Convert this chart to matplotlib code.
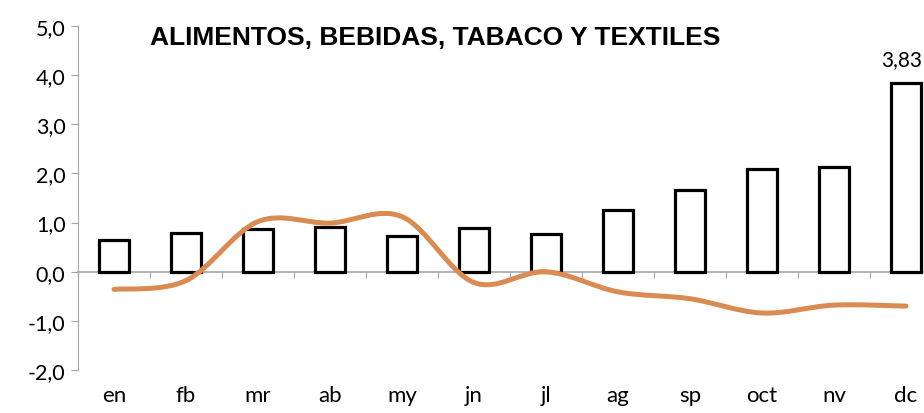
import matplotlib as mpl
mpl.use('Agg')
import matplotlib.pyplot as plt
import numpy as np
from matplotlib.path import Path
from matplotlib.patches import PathPatch
from matplotlib.ticker import FuncFormatter

MONTHS = ['en', 'fb', 'mr', 'ab', 'my', 'jn', 'jl', 'ag', 'sp', 'oct', 'nv', 'dc']
BARS = [0.65, 0.79, 0.86, 0.90, 0.72, 0.89, 0.77, 1.25, 1.67, 2.10, 2.13, 3.83]
LINE = [-0.36, -0.18, 1.02, 0.99, 1.12, -0.22, 0.00, -0.41, -0.55, -0.84, -0.68, -0.70]
TITLE = 'ALIMENTOS, BEBIDAS, TABACO Y TEXTILES'

GRAY = '#A6A6A6'
ORANGE = '#D98B52'

plt.rcParams['font.family'] = ['Lato', 'DejaVu Sans']


def smooth_path(xs, ys):
    # excel-like smoothed line: catmull-rom segments as cubic beziers
    pts = np.column_stack([xs, ys]).astype(float)
    n = len(pts)
    verts = [pts[0]]
    codes = [Path.MOVETO]
    for i in range(n - 1):
        p0 = pts[max(i - 1, 0)]
        p1 = pts[i]
        p2 = pts[i + 1]
        p3 = pts[min(i + 2, n - 1)]
        c1 = p1 + (p2 - p0) / 6
        c2 = p2 - (p3 - p1) / 6
        verts += [c1, c2, p2]
        codes += [Path.CURVE4] * 3
    return Path(verts, codes)


def main():
    fig = plt.figure(figsize=(9.24, 4.14), dpi=100)
    ax = fig.add_axes([78/924, 43/414, 864/924, 344/414])
    x = np.arange(len(MONTHS))

    ax.bar(x, BARS, width=0.42, facecolor='white', edgecolor='black',
           linewidth=2.3, zorder=3)
    ax.add_patch(PathPatch(smooth_path(x, LINE), facecolor='none', edgecolor=ORANGE,
                           linewidth=3.6, capstyle='round', zorder=4))

    ax.set_xlim(-0.5, len(MONTHS) - 0.5)
    ax.set_ylim(-2, 5)
    ax.set_yticks(np.arange(-2, 6))
    ax.yaxis.set_major_formatter(FuncFormatter(lambda v, p: f'{v:.1f}'.replace('.', ',')))
    ax.tick_params(axis='y', length=5, width=0.8, color=GRAY, labelsize=15.5, pad=4)

    for s in ('top', 'right'):
        ax.spines[s].set_visible(False)
    ax.spines['left'].set_color(GRAY)
    ax.spines['bottom'].set_position(('data', 0))
    ax.spines['bottom'].set_color(GRAY)
    ax.spines['bottom'].set_linewidth(1.2)
    ax.set_xticks(np.arange(len(MONTHS) + 1) - 0.5)
    ax.set_xticks(x, minor=True)
    ax.tick_params(axis='x', which='major', length=4, width=0.8, color=GRAY,
                   direction='out', labelbottom=False)
    ax.tick_params(axis='x', which='minor', length=3, width=0.8, color=GRAY,
                   direction='in', labelbottom=False)

    sec = ax.secondary_xaxis(0)
    sec.set_xticks(x, MONTHS)
    sec.tick_params(length=0, labelsize=16, pad=11)
    sec.spines['bottom'].set_visible(False)

    ax.text(x[-1] + 0.22, BARS[-1] + 0.3, f'{BARS[-1]:.2f}'.replace('.', ','),
            ha='right', va='bottom', fontsize=15)

    fig.text(150/924, 1 - 38/414, TITLE, ha='left', va='center', fontsize=19,
             fontweight='bold', family=['Liberation Sans'])

    fig.savefig('out.png', dpi=100)


if __name__ == '__main__': main()
